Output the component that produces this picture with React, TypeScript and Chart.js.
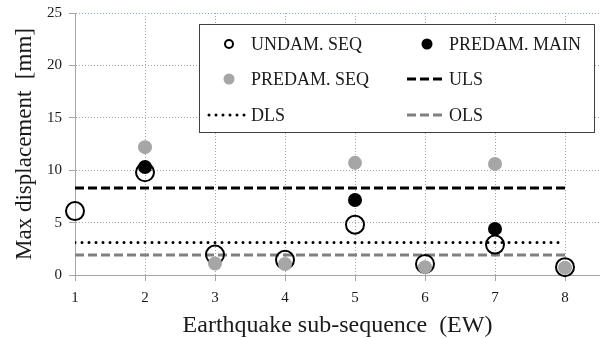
import { useEffect, useRef } from "react";
import { Chart, registerables } from "chart.js";

Chart.register(...registerables);

// Earthquake sub-sequence index (EW direction)
const sequences = [1, 2, 3, 4, 5, 6, 7, 8];
// Maximum displacement [mm], undamaged structure under the full sequence
const undamagedSeq = [6.1, 9.8, 1.95, 1.45, 4.8, 1.05, 2.9, 0.75];
// Pre-damaged structure, mainshock only
const predamMainX = [2, 5, 7];
const predamMain = [10.3, 7.15, 4.4];
// Pre-damaged structure, full sequence
const predamSeqX = [2, 3, 4, 5, 6, 7, 8];
const predamSeq = [12.2, 1.1, 1.05, 10.7, 0.75, 10.6, 0.7];
// Limit-state thresholds [mm]
const ulsLevel = 8.3;
const dlsLevel = 3.1;
const olsLevel = 1.9;
const yTicks = [0, 5, 10, 15, 20, 25];

const FONT = "'Liberation Serif', 'Times New Roman', serif";
const GRID = "#a6a6a6";
const INK = "#1a1a1a";

type LegendItem = { label: string; kind: "ring" | "dot" | "line"; color: string; dash?: number[]; cap?: CanvasLineCap; col: number; row: number };

const legendItems: LegendItem[] = [
  { label: "UNDAM. SEQ", kind: "ring", color: "#000000", col: 0, row: 0 },
  { label: "PREDAM. MAIN", kind: "dot", color: "#000000", col: 1, row: 0 },
  { label: "PREDAM. SEQ", kind: "dot", color: "#a6a6a6", col: 0, row: 1 },
  { label: "ULS", kind: "line", color: "#000000", dash: [9, 4], cap: "butt", col: 1, row: 1 },
  { label: "DLS", kind: "line", color: "#000000", dash: [0, 7], cap: "round", col: 0, row: 2 },
  { label: "OLS", kind: "line", color: "#808080", dash: [9, 4], cap: "butt", col: 1, row: 2 },
];

const boxedLegend = {
  id: "boxedLegend",
  afterDraw(chart: Chart) {
    const { ctx, chartArea } = chart;
    const left = chartArea.left + 124;
    const top = chartArea.top + 11;
    const right = chartArea.right - 6;
    const bottom = chartArea.top + 119;
    ctx.save();
    ctx.fillStyle = "#ffffff";
    ctx.fillRect(left, top, right - left, bottom - top);
    ctx.strokeStyle = "#404040";
    ctx.lineWidth = 1;
    ctx.strokeRect(left + 0.5, top + 0.5, right - left, bottom - top);
    const rows = [top + 20, top + 55, top + 91];
    const cols = [left, left + 198];
    ctx.font = `18px ${FONT}`;
    ctx.textBaseline = "middle";
    ctx.textAlign = "left";
    for (const it of legendItems) {
      const x0 = cols[it.col];
      const y = rows[it.row];
      if (it.kind === "ring") {
        ctx.beginPath();
        ctx.arc(x0 + 30, y, 4, 0, Math.PI * 2);
        ctx.strokeStyle = it.color;
        ctx.lineWidth = 2;
        ctx.stroke();
      } else if (it.kind === "dot") {
        ctx.beginPath();
        ctx.arc(x0 + 30, y, 5.5, 0, Math.PI * 2);
        ctx.fillStyle = it.color;
        ctx.fill();
      } else {
        ctx.beginPath();
        ctx.setLineDash(it.dash || []);
        ctx.lineCap = it.cap || "butt";
        ctx.lineWidth = 3;
        ctx.strokeStyle = it.color;
        ctx.moveTo(x0 + 10, y);
        ctx.lineTo(x0 + 49, y);
        ctx.stroke();
        ctx.setLineDash([]);
      }
      ctx.fillStyle = INK;
      ctx.fillText(it.label, x0 + 52, y + 1);
    }
    ctx.restore();
  },
};

function levelLine(level: number) {
  return [
    { x: sequences[0], y: level },
    { x: sequences[sequences.length - 1], y: level },
  ];
}

export default function App() {
  const ref = useRef<HTMLCanvasElement>(null);

  useEffect(() => {
    if (!ref.current) return;
    const chart = new Chart(ref.current, {
      type: "scatter",
      data: {
        datasets: [
          {
            label: "ULS",
            type: "line",
            data: levelLine(ulsLevel),
            borderColor: "#000000",
            borderWidth: 3,
            borderDash: [9, 4],
            pointRadius: 0,
            fill: false,
            order: 10,
          },
          {
            label: "DLS",
            type: "line",
            data: levelLine(dlsLevel),
            borderColor: "#000000",
            borderWidth: 3,
            borderDash: [0, 7],
            borderCapStyle: "round",
            pointRadius: 0,
            fill: false,
            order: 10,
          },
          {
            label: "OLS",
            type: "line",
            data: levelLine(olsLevel),
            borderColor: "#808080",
            borderWidth: 3,
            borderDash: [9, 4],
            pointRadius: 0,
            fill: false,
            order: 10,
          },
          {
            label: "UNDAM. SEQ",
            data: sequences.map((x, i) => ({ x, y: undamagedSeq[i] })),
            pointRadius: 9,
            pointBorderWidth: 2,
            pointBorderColor: "#000000",
            pointBackgroundColor: "rgba(0,0,0,0)",
            clip: false,
            order: 3,
          },
          {
            label: "PREDAM. SEQ",
            data: predamSeqX.map((x, i) => ({ x, y: predamSeq[i] })),
            pointRadius: 7,
            pointBorderWidth: 0,
            pointBackgroundColor: "#a6a6a6",
            clip: false,
            order: 2,
          },
          {
            label: "PREDAM. MAIN",
            data: predamMainX.map((x, i) => ({ x, y: predamMain[i] })),
            pointRadius: 7,
            pointBorderWidth: 0,
            pointBackgroundColor: "#000000",
            clip: false,
            order: 1,
          },
        ],
      },
      options: {
        animation: false,
        responsive: false,
        maintainAspectRatio: false,
        layout: { autoPadding: false, padding: { top: 13, right: 0, left: 0, bottom: 0 } },
        plugins: { legend: { display: false }, tooltip: { enabled: false } },
        scales: {
          x: {
            type: "linear",
            min: 1,
            max: 8.5,
            afterBuildTicks: (s: any) => {
              s.ticks = sequences.map((v) => ({ value: v }));
            },
            afterFit: (s: any) => {
              s.height = 63;
              s.paddingLeft = 0;
              s.paddingRight = 0;
            },
            ticks: {
              font: { family: FONT, size: 15 },
              color: INK,
              padding: 8,
            },
            grid: {
              color: GRID,
              tickColor: GRID,
              tickLength: 6,
              lineWidth: 1,
            },
            border: { color: GRID, width: 1, dash: [1, 2] },
            title: {
              display: true,
              text: "Earthquake sub-sequence  (EW)",
              font: { family: FONT, size: 24, lineHeight: 1 },
              color: INK,
              padding: { top: 0, bottom: 0 },
            },
          },
          y: {
            type: "linear",
            min: 0,
            max: 25,
            afterBuildTicks: (s: any) => {
              s.ticks = yTicks.map((v) => ({ value: v }));
            },
            afterFit: (s: any) => {
              s.width = 75;
              s.paddingTop = 0;
              s.paddingBottom = 0;
            },
            ticks: {
              font: { family: FONT, size: 15 },
              color: INK,
              padding: 7,
            },
            grid: {
              color: (c: any) => (c.tick && c.tick.value === 25 ? "#8eaadb" : GRID),
              tickColor: GRID,
              tickLength: 6,
              lineWidth: 1,
            },
            border: { color: GRID, width: 1, dash: [1, 2] },
            title: {
              display: true,
              text: "Max displacement  [mm]",
              font: { family: FONT, size: 23, lineHeight: 1 },
              color: INK,
              padding: { top: 13, bottom: 0 },
            },
          },
        },
      },
      plugins: [boxedLegend],
    });
    return () => chart.destroy();
  }, []);

  return (
    <div style={{ position: "absolute", left: 0, top: 0, width: 600, height: 338, background: "#ffffff" }}>
      <canvas ref={ref} width={600} height={338} style={{ width: 600, height: 338 }} />
    </div>
  );
}
